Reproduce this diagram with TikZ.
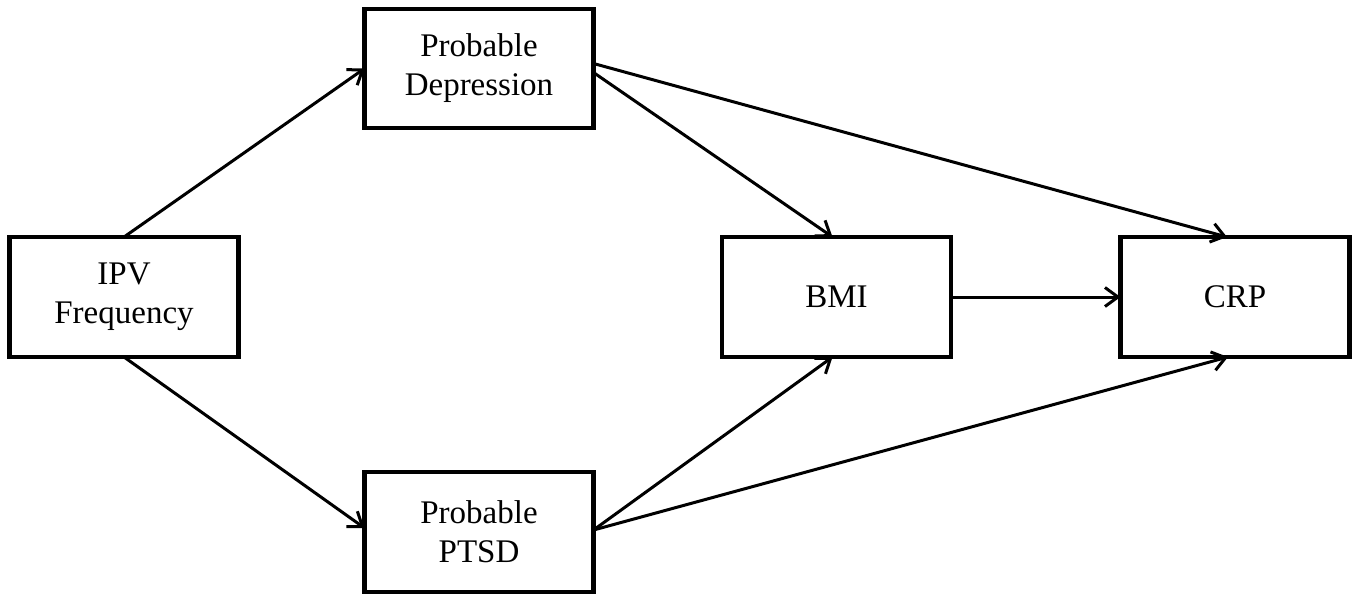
\documentclass[tikz,border=0pt]{standalone}
\usepackage{fontspec}
\setmainfont{Liberation Serif}
\usetikzlibrary{arrows.meta}
\begin{document}
\begin{tikzpicture}[x=1pt,y=-1pt,
  box/.style={draw, line width=4.5pt, rectangle, minimum width=229pt, minimum height=120pt,
    align=center, font=\fontsize{33}{39}\selectfont, inner sep=2pt, outer sep=0pt},
  conn/.style={line width=3pt, -{Straight Barb[length=13pt,width=19pt,line width=3pt]}}]
\useasboundingbox (0,0) rectangle (1359,595);
\node[box] (ipv) at (124,297) {IPV\\Frequency};
\node[box, minimum height=119pt] (dep) at (479,68.5) {Probable\\Depression};
\node[box] (ptsd) at (479,532) {Probable\\PTSD};
\node[box] (bmi) at (836.5,297) {BMI};
\node[box] (crp) at (1235,297) {CRP};
\draw[conn] (ipv.north) -- (dep.west);
\draw[conn] (ipv.south) -- ([yshift=4pt]ptsd.west);
\draw[conn] ([yshift=5pt]dep.east) -- ([xshift=-8pt]crp.north);
\draw[conn] ([yshift=-4pt]dep.east) -- ([xshift=-4pt]bmi.north);
\draw[conn] ([yshift=2pt]ptsd.east) -- ([xshift=-4pt]bmi.south);
\draw[conn] ([yshift=2pt]ptsd.east) -- ([xshift=-7pt]crp.south);
\draw[conn] (bmi.east) -- (crp.west);
\end{tikzpicture}
\end{document}
